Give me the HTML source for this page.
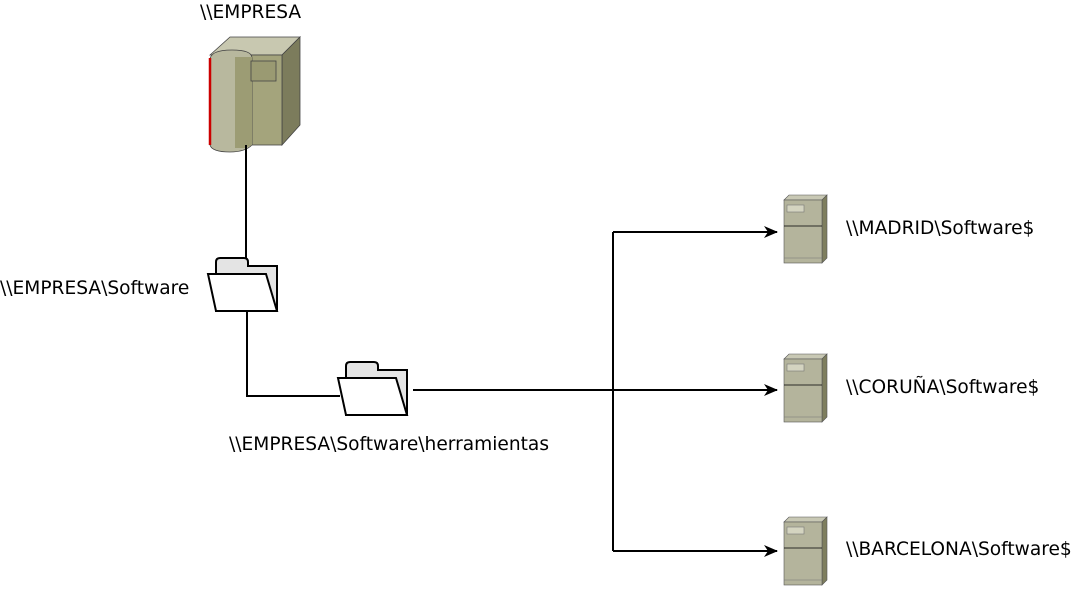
<!DOCTYPE html>
<html><head><style>
body{margin:0;background:#fff;width:1079px;height:586px;overflow:hidden}
svg text{font-family:"DejaVu Sans","Liberation Sans",sans-serif;font-size:18.6px;fill:#000}
</style></head><body>
<svg width="1079" height="586" viewBox="0 0 1079 586">
<defs>
<marker id="a" markerWidth="14" markerHeight="12" refX="13" refY="6" orient="auto" markerUnits="userSpaceOnUse">
<path d="M0,0 L14,6 L0,12 L4,6 Z" fill="#000"/></marker>
<g id="srv">
<polygon points="0,5 5,0 43,0 38,5" fill="#c8c8b4" stroke="#555" stroke-width="0.6"/>
<polygon points="38,5 43,0 43,63 38,68" fill="#7e7e5e" stroke="#555" stroke-width="0.6"/>
<rect x="0" y="5" width="38" height="63" fill="#b4b49c" stroke="#555" stroke-width="0.6"/>
<rect x="3" y="10" width="17" height="7" fill="#d4d4c0" stroke="#777" stroke-width="0.6"/>
<line x1="0" y1="31" x2="38" y2="31" stroke="#000" stroke-width="0.8"/>
<line x1="0" y1="63" x2="38" y2="63" stroke="#777" stroke-width="0.6"/>
</g>
<g id="fld">
<path d="M8,17 V4 Q8,0 12,0 H36 Q40,0 40,4 V8 H69 V53 H8 Z" fill="#e4e4e4" stroke="#000" stroke-width="2"/>
<polygon points="0,16 58,16 69,53 8,53" fill="#fff" stroke="#000" stroke-width="2"/>
</g>
</defs>
<g stroke="#444" stroke-width="0.8">
<polygon points="210,55 230,37 300,37 282,55" fill="#c8c8b0"/>
<polygon points="282,55 300,37 300,125 282,145" fill="#7c7c5c"/>
<rect x="235" y="55" width="47" height="90" fill="#a4a47c"/>
<path d="M210,60 Q210,50 232,50 Q252,50 252,58 V145 Q245,152 230,152 Q212,152 210,145 Z" fill="#b8b89e"/>
<path d="M235,57 H252 V145 L245,148 H235 Z" fill="#9c9c74" stroke="none"/>
<rect x="251" y="61" width="25" height="20" fill="#9a9a72"/>
</g>
<line x1="210" y1="58" x2="210" y2="145" stroke="#c00" stroke-width="2.5"/>
<text x="200" y="18">\\EMPRESA</text>
<g fill="none" stroke="#000" stroke-width="2">
<line x1="246" y1="145" x2="246" y2="258"/>
<polyline points="247,310 247,396 340,396"/>
<line x1="413" y1="390" x2="613" y2="390"/>
<line x1="613" y1="232" x2="613" y2="551"/>
<line x1="613" y1="232" x2="777" y2="232" marker-end="url(#a)"/>
<line x1="613" y1="390" x2="777" y2="390" marker-end="url(#a)"/>
<line x1="613" y1="551" x2="777" y2="551" marker-end="url(#a)"/>
</g>
<use href="#fld" x="208" y="258"/>
<use href="#fld" x="338" y="362"/>
<text x="0" y="294">\\EMPRESA\Software</text>
<text x="229" y="450">\\EMPRESA\Software\herramientas</text>
<use href="#srv" x="784" y="195"/>
<use href="#srv" x="784" y="354"/>
<use href="#srv" x="784" y="517"/>
<text x="846" y="234">\\MADRID\Software$</text>
<text x="846" y="393">\\CORUÑA\Software$</text>
<text x="846" y="555">\\BARCELONA\Software$</text>
</svg>
</body></html>
